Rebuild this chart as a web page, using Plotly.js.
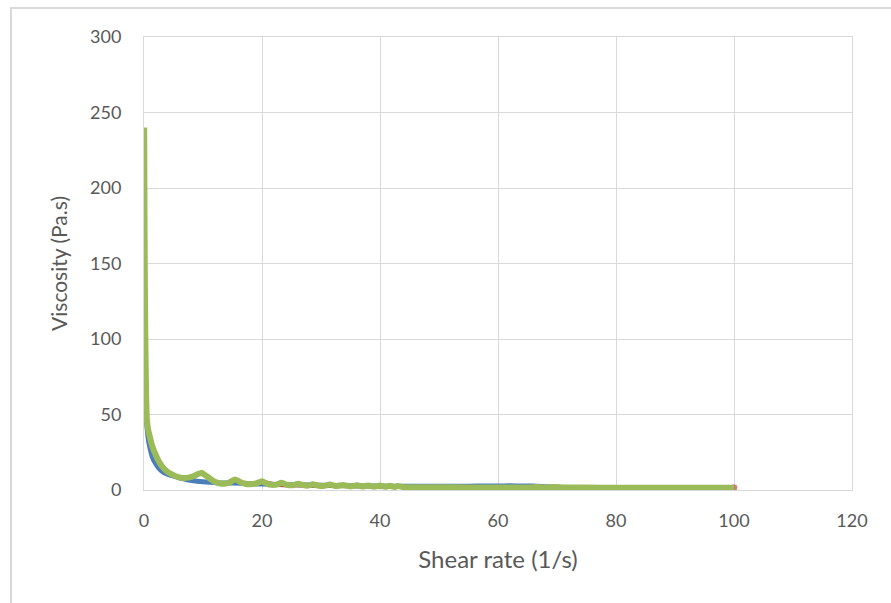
<!DOCTYPE html>
<html>
<head>
<meta charset="utf-8">
<script src="https://cdn.plot.ly/plotly-3.0.1.min.js"></script>
<style>
  html, body { margin: 0; padding: 0; background: #fff; }
  #wrap { position: relative; width: 891px; height: 603px; }
  #chart { width: 891px; height: 603px; }
  #frame { position: absolute; left: 10px; top: 7px; right: 0; bottom: 0;
           border-top: 2px solid #D9D9D9; border-left: 2px solid #D9D9D9; pointer-events: none; }
</style>
</head>
<body>
<div id="wrap">
  <div id="chart"></div>
  <div id="frame"></div>
</div>
<script>
// Series 1 (blue)
var blueX = [0.0, 0.1, 0.25, 0.5, 0.75, 1.0, 1.4, 1.9, 2.5, 3.2, 4.0, 4.9, 6.0, 7.5, 9.0, 10.5, 12, 13.5, 15, 16.5, 18, 20, 23, 26, 30, 35, 40, 45, 50, 55, 58, 60, 62, 64, 66, 68, 70, 75, 80, 90, 100];
var blueY = [102, 80, 60, 42, 33, 28, 22, 18, 14.5, 12, 10.5, 9.3, 8, 6.6, 5.8, 5.3, 4.9, 4.6, 4.6, 4.4, 4.1, 4.0, 3.6, 3.4, 3.1, 2.8, 2.6, 2.5, 2.5, 2.5, 2.7, 2.6, 2.8, 2.6, 2.7, 2.2, 1.8, 1.6, 1.5, 1.4, 1.4];

// Series 3 (green)
var greenX = [0.03, 0.1, 0.2, 0.35, 0.5, 0.7, 1.0, 1.4, 1.9, 2.5, 3.2, 4.0, 4.9, 5.8, 6.6, 7.5, 8.3, 9.1, 9.8, 10.5, 11.2, 12.0, 12.8, 13.6, 14.4, 15.4, 16.2, 17.0, 18.0, 19.0, 20.0, 20.8, 21.6, 22.5, 23.3, 24.2, 25.2, 26.1, 27.0, 27.8, 28.6, 29.4, 30.4, 31.5, 32.6, 33.7, 34.9, 36.1, 37.0, 38.0, 39.0, 40.0, 40.8, 41.7, 42.4, 43.0, 44.0, 46, 50, 55, 60, 65, 66.5, 68, 69.5, 71, 72.5, 75, 80, 85, 90, 95, 100];
var greenY = [240, 170, 110, 65, 46, 40, 35, 29, 24, 19, 15, 12, 10, 8.6, 8, 8.2, 9, 10.5, 11.3, 9.5, 7.5, 5.5, 4.5, 4.2, 4.8, 7.0, 5.5, 4.3, 3.8, 4.3, 5.8, 4.2, 3.4, 3.6, 4.8, 3.5, 3.1, 4.2, 3.2, 2.9, 3.8, 3.0, 2.7, 3.6, 2.6, 3.3, 2.4, 3.1, 2.3, 3.0, 2.2, 2.9, 2.1, 2.8, 2.0, 2.6, 1.9, 1.8, 1.8, 1.7, 1.7, 1.6, 2.0, 1.6, 2.0, 1.6, 1.7, 1.6, 1.5, 1.5, 1.5, 1.5, 1.5];

// Series 2 (red) - hidden beneath series 3 except its last point
var redX = [0.03, 0.1, 0.2, 0.35, 0.5, 0.7, 1.0, 1.4, 1.9, 2.5, 3.2, 4.0, 4.9, 5.8, 6.6, 7.5, 8.3, 9.1, 9.8, 10.5, 11.2, 12.0, 12.8, 13.6, 14.4, 15.4, 16.2, 17.0, 18.0, 19.0, 20.0, 22.5, 25.2, 30.4, 35, 40, 45, 50, 55, 60, 65, 70, 75, 80, 85, 90, 95, 100];
var redY = [235, 168, 108, 64, 45, 39, 34, 28.5, 23.5, 18.6, 14.7, 11.8, 9.8, 8.4, 7.9, 8.0, 8.8, 10.2, 11.0, 9.3, 7.3, 5.4, 4.4, 4.1, 4.6, 6.6, 5.3, 4.2, 3.7, 4.1, 5.3, 3.5, 3.1, 2.7, 2.5, 2.3, 1.9, 1.8, 1.7, 1.7, 1.6, 1.6, 1.6, 1.5, 1.5, 1.5, 1.5, 1.5];

var xTicks = [0, 20, 40, 60, 80, 100, 120];
var yTicks = [0, 50, 100, 150, 200, 250, 300];

var redSizes = redX.map(function (v, i) { return i === redX.length - 1 ? 8 : 0; });

var traces = [
  { x: blueX, y: blueY, type: 'scatter', mode: 'lines', line: { color: '#4A7EBB', width: 5, shape: 'spline', smoothing: 0.6 }, name: 'Series1' },
  { x: redX, y: redY, type: 'scatter', mode: 'lines+markers', line: { color: '#C0504D', width: 4, shape: 'spline', smoothing: 0.6 }, marker: { color: '#C0504D', size: redSizes }, name: 'Series2' },
  { x: greenX, y: greenY, type: 'scatter', mode: 'lines', line: { color: '#9BBB59', width: 6, shape: 'spline', smoothing: 0.6 }, name: 'Series3' }
];

var fontFam = 'Lato, "Open Sans", sans-serif';
var layout = {
  width: 891, height: 603,
  margin: { l: 144, r: 39, t: 37, b: 113 },
  paper_bgcolor: '#ffffff', plot_bgcolor: '#ffffff',
  showlegend: false,
  font: { family: fontFam, color: '#595959', size: 18 },
  xaxis: {
    range: [0, 120], tickvals: xTicks, ticktext: xTicks.map(String),
    showgrid: true, gridcolor: '#D9D9D9', gridwidth: 1,
    showline: true, linecolor: '#D9D9D9', linewidth: 1, mirror: true,
    zeroline: false, ticks: '', ticklabelstandoff: 14,
    tickfont: { family: fontFam, size: 18, color: '#595959' },
    title: { text: 'Shear rate (1/s)', font: { family: fontFam, size: 24, color: '#595959' }, standoff: 21 }
  },
  yaxis: {
    range: [0, 300], tickvals: yTicks, ticktext: yTicks.map(String),
    showgrid: true, gridcolor: '#D9D9D9', gridwidth: 1,
    showline: true, linecolor: '#D9D9D9', linewidth: 1, mirror: true,
    zeroline: false, ticks: '', ticklabelstandoff: 18,
    tickfont: { family: fontFam, size: 18, color: '#595959' },
    title: { text: 'Viscosity (Pa.s)', font: { family: fontFam, size: 21, color: '#595959' }, standoff: 16 }
  }
};

Plotly.newPlot('chart', traces, layout, { staticPlot: true, displayModeBar: false });
</script>
</body>
</html>
